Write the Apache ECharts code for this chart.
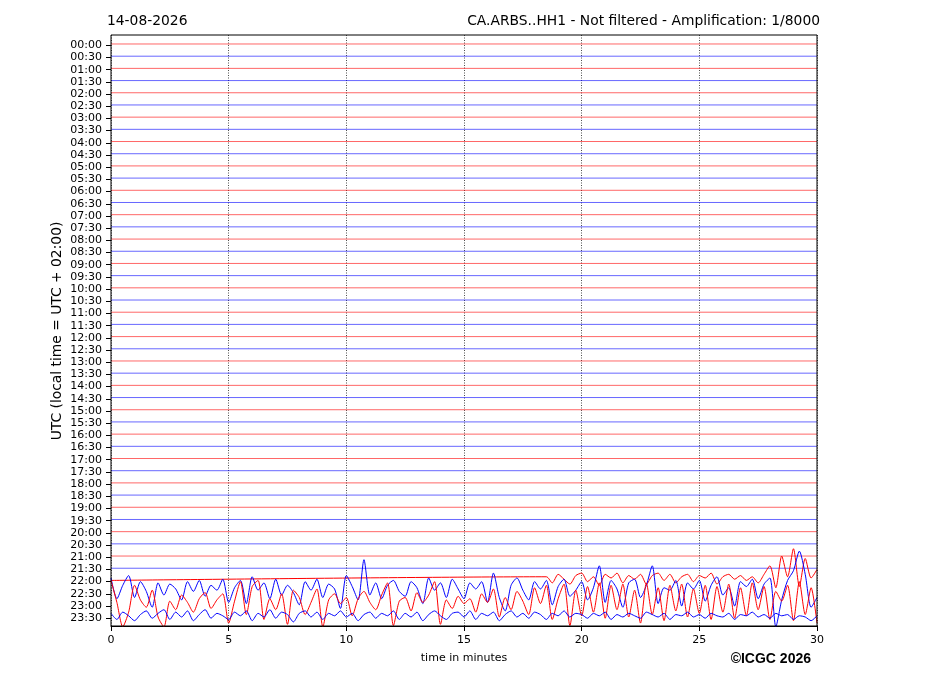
<!DOCTYPE html>
<html><head><meta charset="utf-8">
<script src="https://cdn.jsdelivr.net/npm/echarts@6/dist/echarts.min.js"></script>
<style>html,body{margin:0;padding:0;background:#fff}#c{width:927px;height:696px}</style>
</head><body><div id="c"></div>
<script>
// Row labels (UTC start time of each 30-min trace)
const rowLabels = ['00:00','00:30','01:00','01:30','02:00','02:30','03:00','03:30','04:00','04:30','05:00','05:30',
'06:00','06:30','07:00','07:30','08:00','08:30','09:00','09:30','10:00','10:30','11:00','11:30',
'12:00','12:30','13:00','13:30','14:00','14:30','15:00','15:30','16:00','16:30','17:00','17:30',
'18:00','18:30','19:00','19:30','20:00','20:30','21:00','21:30','22:00','22:30','23:00','23:30'];
const xTicks = [0,5,10,15,20,25,30];
const sampleStep = 0.25; // minutes between samples

// Trace deflections (in trace-spacing units, positive = upward)
// 22:00 trace, quiet until 18.5 min
const r2200Start = 18.5;
const r2200 = [0.3,-0.2,0.5,0.1,-0.3,0.4,0.6,-0.1,0.3,-0.4,
0.5,0.2,0.6,-0.2,0.4,0.1,0.5,-0.3,0.4,0.6,
0.0,0.5,-0.2,0.3,0.5,-0.1,0.4,0.2,0.6,-0.3,
0.3,0.5,0.1,0.4,0.0,0.3,-0.2,0.5,1.2,-0.6,
2.0,0.3,2.6,-0.5,1.8,0.2,0.9];
// 22:30 trace
const b2230 = [1.2,-0.5,0.6,1.4,-0.4,0.9,0.1,-1.2,0.8,-0.2,0.7,0.3,-0.6,0.9,0.1,1.0,-0.3,0.6,0.2,1.1,
-0.8,0.4,1.0,-0.9,1.3,0.2,0.8,-0.5,1.1,-0.2,0.6,0.0,-1.0,0.9,0.2,1.1,-0.4,0.7,0.3,-1.3,
1.4,0.5,-0.6,2.7,-0.2,0.8,-0.5,0.6,1.0,0.1,-0.3,0.9,0.4,-0.9,1.2,0.2,0.8,-0.4,1.1,0.3,
-0.5,0.8,0.3,0.9,-0.8,1.6,-0.4,-1.5,0.6,1.2,0.2,-0.6,0.9,0.3,1.0,-1.0,0.5,1.1,-0.3,0.2,
0.9,-0.6,0.4,2.2,-0.8,1.0,0.3,-1.2,0.8,1.1,-0.4,0.6,2.2,-0.9,0.4,0.2,1.0,-1.1,0.8,0.3,
1.0,-0.7,0.6,1.3,-0.2,0.4,-1.1,0.9,0.5,1.1,-0.5,0.7,1.2,-2.8,-0.6,1.0,1.8,3.4,1.5,-1.2,-0.4];
// 23:00 trace
const r2300 = [2.0,0.2,-1.8,-0.6,1.6,0.4,-0.2,1.2,-1.0,-1.8,0.3,-0.4,0.8,0.2,-0.6,0.5,1.0,-0.3,0.4,0.9,
-1.5,0.3,1.9,-0.8,1.5,2.0,-1.2,0.5,-0.4,0.9,-1.6,1.2,0.6,-0.8,0.2,1.3,-1.8,0.4,0.9,0.1,
0.6,-0.9,0.5,1.1,0.2,-0.4,0.8,1.8,-1.7,0.3,0.6,-0.5,1.0,0.2,0.8,1.9,-1.6,0.4,-0.3,0.7,
0.1,0.5,-0.6,0.9,0.2,1.3,-1.0,0.6,-0.4,1.1,0.3,-0.8,1.4,0.1,1.6,-1.2,0.5,1.7,-1.7,1.2,
-0.9,1.5,-0.6,1.8,-1.1,1.6,-0.4,1.7,-1.0,1.2,-1.5,1.8,-0.8,1.4,-1.3,1.6,-0.5,1.7,-1.0,1.3,
-0.7,1.6,-1.2,1.5,-0.6,1.7,-1.1,1.4,-0.9,1.8,-0.4,1.5,-1.2,1.1,0.3,1.6,-1.3,1.9,-0.8,1.4,-1.5];
// 23:30 trace
const b2330 = [0.3,-0.2,0.4,0.1,-0.3,0.2,0.5,-0.1,0.3,0.6,-0.2,0.4,0.0,0.5,-0.3,0.2,0.6,-0.1,0.3,0.1,
-0.2,0.4,0.1,0.5,-0.3,0.3,0.0,0.6,-0.1,0.4,0.2,-0.4,0.3,0.5,0.0,0.4,-0.2,0.3,0.1,0.5,
0.0,0.3,-0.3,0.2,0.4,-0.1,0.3,0.1,0.5,-0.2,0.3,0.0,0.4,-0.3,0.2,0.5,0.1,-0.2,0.3,0.4,
0.0,0.5,-0.2,0.3,0.1,0.4,-0.3,0.2,0.5,0.0,0.3,-0.1,0.4,0.2,-0.2,0.3,0.1,0.5,0.0,0.3,
0.2,-0.1,0.3,0.1,0.4,-0.2,0.2,0.0,0.3,0.1,-0.1,0.4,0.2,0.0,0.3,-0.2,0.2,0.1,0.4,0.0,
0.2,-0.1,0.3,0.1,0.0,0.3,-0.2,0.2,0.1,0.4,0.0,0.2,-0.1,0.3,0.1,0.2,-0.2,0.1,0.0,-0.3,0.1];

const traceColors = ['#ff0000','#0000ff'];
const FONT = '"DejaVu Sans", sans-serif';

function tracePoints(row, values, start) {
  const pts = [];
  if (start > 0) pts.push([0, row]);
  values.forEach((v, i) => pts.push([start + i * sampleStep, row - v]));
  return pts;
}
const active = {44: [r2200, r2200Start], 45: [b2230, 0], 46: [r2300, 0], 47: [b2330, 0]};

const series = rowLabels.map((lab, row) => {
  const a = active[row];
  const data = a ? tracePoints(row, a[0], a[1]) : [[0, row], [30, row]];
  return {
    type: 'line', xAxisIndex: 0, yAxisIndex: 0, data: data,
    showSymbol: false, symbol: 'none', smooth: a ? 0.25 : false, clip: true,
    lineStyle: {color: traceColors[row % 2], width: a ? 1 : 0.6},
    silent: true, z: 3
  };
});

const chart = echarts.init(document.getElementById('c'), null, {renderer: 'canvas'});
chart.setOption({
  animation: false,
  backgroundColor: '#fff',
  textStyle: {fontFamily: FONT},
  grid: [
    {left: 111, top: 35, width: 706, height: 591, show: true, borderColor: '#000', borderWidth: 1, backgroundColor: 'transparent', z: 4},
    {left: 111, top: 39.2, width: 706, height: 585.1, show: false}
  ],
  xAxis: [
    {type: 'value', gridIndex: 0, min: xTicks[0], max: xTicks[xTicks.length - 1], interval: 5,
     axisLine: {show: true, onZero: false, lineStyle: {color: '#000', width: 1}},
     axisTick: {show: true, length: 5, lineStyle: {color: '#000', width: 1}},
     axisLabel: {color: '#000', fontSize: 11, margin: 9, fontFamily: FONT},
     splitLine: {show: true, lineStyle: {color: '#000', width: 0.7, type: [1, 1.5]}},
     name: 'time in minutes', nameLocation: 'middle', nameGap: 27,
     nameTextStyle: {color: '#000', fontSize: 11, fontFamily: FONT}},
    {type: 'value', gridIndex: 1, show: false, min: 0, max: 30,
     axisLine: {show: false, onZero: false}, axisTick: {show: false}, axisLabel: {show: false}, splitLine: {show: false}}
  ],
  yAxis: [
    {type: 'value', gridIndex: 0, inverse: true, min: -0.738, max: 47.738,
     axisLine: {show: false, onZero: false}, axisTick: {show: false}, axisLabel: {show: false}, splitLine: {show: false}},
    {type: 'category', gridIndex: 1, inverse: true, data: rowLabels, boundaryGap: true,
     axisLine: {show: false, onZero: false},
     axisTick: {show: true, alignWithLabel: true, interval: 0, length: 5, lineStyle: {color: '#000', width: 1}},
     axisLabel: {interval: 0, color: '#000', fontSize: 11, margin: 9, fontFamily: FONT},
     splitLine: {show: false}}
  ],
  graphic: [
    {type: 'text', x: 107, y: 21, style: {text: '14-08-2026', fill: '#000', font: '13.85px ' + FONT, textAlign: 'left', textVerticalAlign: 'middle', align: 'left', verticalAlign: 'middle'}},
    {type: 'text', x: 820, y: 21, style: {text: 'CA.ARBS..HH1 - Not filtered - Amplification: 1/8000', fill: '#000', font: '13.85px ' + FONT, textAlign: 'right', textVerticalAlign: 'middle', align: 'right', verticalAlign: 'middle'}},
    {type: 'text', x: 57, y: 331, rotation: Math.PI / 2, style: {text: 'UTC (local time = UTC + 02:00)', fill: '#000', font: '13.85px ' + FONT, textAlign: 'center', textVerticalAlign: 'middle', align: 'center', verticalAlign: 'middle'}},
    {type: 'text', x: 811, y: 659, style: {text: '©ICGC 2026', fill: '#000', font: 'bold 14px "Liberation Sans", Arial, sans-serif', textAlign: 'right', textVerticalAlign: 'middle', align: 'right', verticalAlign: 'middle'}}
  ],
  series: series
});
</script></body></html>
